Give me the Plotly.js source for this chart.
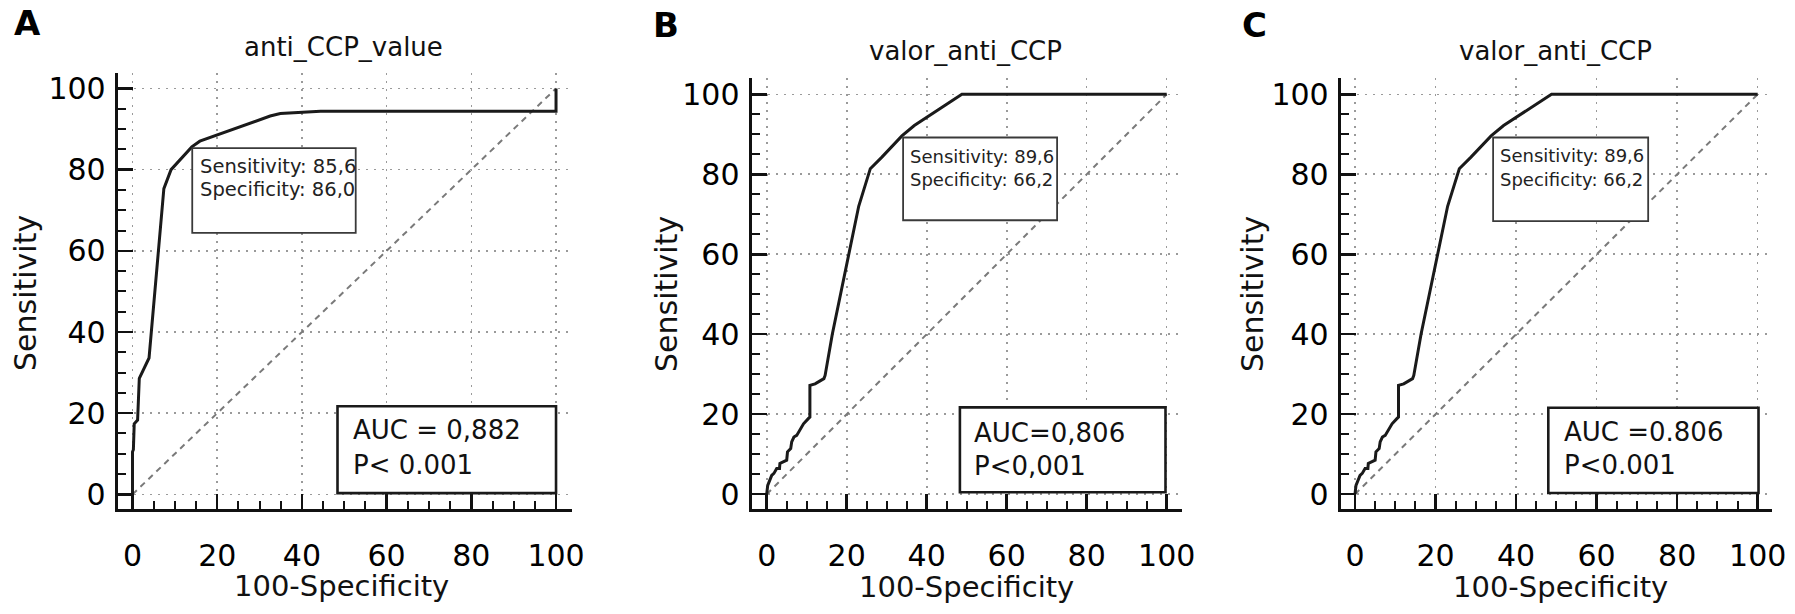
<!DOCTYPE html>
<html>
<head>
<meta charset="utf-8">
<script src="https://cdn.plot.ly/plotly-3.0.1.min.js"></script>
<style>html,body{margin:0;padding:0;background:#fff;}#chart{width:1795px;height:614px;}</style>
</head>
<body>
<div id="chart"></div>
<script>
// ---- data ----
const panelLetters = ["A", "B", "C"];
const panelTitles = ["anti_CCP_value", "valor_anti_CCP", "valor_anti_CCP"];
const xTitle = "100-Specificity";
const yTitle = "Sensitivity";

// Panel A ROC curve (100-Specificity, Sensitivity)
const aFpr = [0, 0, 0.2, 0.4, 1.2, 1.6, 3.9, 7.4, 9.1, 14.0, 15.9, 32.5, 34.9, 41.3, 44.4, 100, 100];
const aTpr = [0, 10.5, 11, 17.4, 18.3, 28.6, 33.6, 75.3, 80, 85.6, 87, 93.2, 93.8, 94.2, 94.4, 94.4, 100];

// Panel B ROC curve
const bFpr = [0, 0.25, 1.25, 1.8, 2.5, 3.2, 3.3, 4.3, 5.0, 5.2, 6.0, 6.25, 6.8, 7.5, 9.2, 10.4, 10.8, 10.8, 12.1, 14.3, 14.6, 16.4, 20.3, 23.0, 25.9, 28.8, 33.8, 36.9, 48.8, 100];
const bTpr = [0, 2.2, 4.7, 5.2, 6.4, 6.4, 7.7, 8.1, 8.5, 10.6, 11.4, 13.1, 14.3, 14.7, 17.6, 18.9, 19.3, 27.2, 27.6, 28.9, 29.7, 40.0, 59.0, 72.0, 81.4, 84.3, 89.6, 92.2, 100, 100];

// Panel C ROC curve (same analysis as B)
const cFpr = [0, 0.25, 1.25, 1.8, 2.5, 3.2, 3.3, 4.3, 5.0, 5.2, 6.0, 6.25, 6.8, 7.5, 9.2, 10.4, 10.8, 10.8, 12.1, 14.3, 14.6, 16.4, 20.3, 23.0, 25.9, 28.8, 33.8, 36.9, 48.8, 100];
const cTpr = [0, 2.2, 4.7, 5.2, 6.4, 6.4, 7.7, 8.1, 8.5, 10.6, 11.4, 13.1, 14.3, 14.7, 17.6, 18.9, 19.3, 27.2, 27.6, 28.9, 29.7, 40.0, 59.0, 72.0, 81.4, 84.3, 89.6, 92.2, 100, 100];

// chance diagonal
const refX = [0, 100];
const refY = [0, 100];

const tickVals = [0, 20, 40, 60, 80, 100];

// box texts
const sensText = ["Sensitivity: 85,6", "Sensitivity: 89,6", "Sensitivity: 89,6"];
const specText = ["Specificity: 86,0", "Specificity: 66,2", "Specificity: 66,2"];
const aucText = ["AUC = 0,882", "AUC=0,806", "AUC =0.806"];
const pText = ["P< 0.001", "P<0,001", "P<0.001"];

// ---- layout helpers (pixel geometry) ----
const W = 1795, H = 614;
const FONT = "DejaVu Sans, Arial, sans-serif";
const INK = "#111111";

const panels = [
  {fpr: aFpr, tpr: aTpr, xd: [117.7, 571.7], yd: [73, 509], xr: [-3.5, 103.7], yr: [-3.6, 103.8],
   letter: [27, 23], title: [343, 47], ytitle: [25, 293], xtitle: [341, 586],
   sensBox: [14.1, 64.4, 52.7, 85.3], sensTxt: [15.4, 80.7, 75.0], sensSize: 19.5,
   aucBox: [48.4, 0.3, 100, 21.7], aucTxt: [51.6, 15.8, 7.2]},
  {fpr: bFpr, tpr: bTpr, xd: [751.5, 1181.5], yd: [78.3, 509], xr: [-3.8, 103.7], yr: [-3.7, 104],
   letter: [666, 25], title: [965, 51], ytitle: [666, 294], xtitle: [966, 587],
   sensBox: [34.1, 68.5, 72.6, 89.2], sensTxt: [35.3, 84.5, 78.7], sensSize: 18,
   aucBox: [48.3, 0.5, 99.7, 21.7], aucTxt: [51.4, 15.4, 7.0]},
  {fpr: cFpr, tpr: cTpr, xd: [1340.7, 1772], yd: [78.3, 509], xr: [-3.55, 103.55], yr: [-3.7, 104],
   letter: [1254, 25], title: [1555, 51], ytitle: [1252, 294], xtitle: [1560, 587],
   sensBox: [34.3, 68.3, 72.8, 89.2], sensTxt: [35.4, 84.8, 78.7], sensSize: 18,
   aucBox: [48.0, 0.3, 100.2, 21.6], aucTxt: [51.4, 15.5, 7.2]}
];

const px = v => v / W;
const py = v => 1 - v / H;

const traces = [];
const layout = {
  width: W, height: H,
  margin: {l: 0, r: 0, t: 0, b: 0},
  paper_bgcolor: "#ffffff",
  plot_bgcolor: "#ffffff",
  showlegend: false,
  font: {family: FONT, color: INK},
  shapes: [],
  annotations: []
};

panels.forEach((p, i) => {
  const n = i === 0 ? "" : String(i + 1);
  const xa = "x" + n, ya = "y" + n;
  traces.push({
    x: refX, y: refY, xaxis: xa, yaxis: ya, type: "scatter", mode: "lines",
    line: {color: "#7a7a7a", width: 2, dash: "6px,5px"}, hoverinfo: "skip"
  });
  traces.push({
    x: p.fpr, y: p.tpr, xaxis: xa, yaxis: ya, type: "scatter", mode: "lines",
    line: {color: "#1a1a1a", width: 3}, hoverinfo: "skip"
  });
  const common = {
    tickvals: tickVals, ticks: "inside", ticklen: 15, tickwidth: 2.5, tickcolor: INK,
    showline: true, linewidth: 3, linecolor: INK, mirror: false,
    showgrid: true, gridcolor: "#9a9a9a", gridwidth: 1.6, griddash: "2px,6px",
    zeroline: false, fixedrange: true,
    tickfont: {family: FONT, size: 30, color: "#000"},
    minor: {dtick: 5, tick0: 0, ticks: "inside", ticklen: 8, tickwidth: 2, tickcolor: INK, showgrid: false}
  };
  layout["xaxis" + n] = Object.assign({}, common, {
    domain: [px(p.xd[0]), px(p.xd[1])], range: p.xr, anchor: ya, ticklabelstandoff: 18
  });
  layout["yaxis" + n] = Object.assign({}, common, {
    domain: [py(p.yd[1]), py(p.yd[0])], range: p.yr, anchor: xa, ticklabelstandoff: 3
  });
  // boxes
  layout.shapes.push({type: "rect", xref: xa, yref: ya, x0: p.sensBox[0], y0: p.sensBox[1], x1: p.sensBox[2], y1: p.sensBox[3],
    fillcolor: "#ffffff", line: {color: "#3a3a3a", width: 1.8}, layer: "above"});
  layout.shapes.push({type: "rect", xref: xa, yref: ya, x0: p.aucBox[0], y0: p.aucBox[1], x1: p.aucBox[2], y1: p.aucBox[3],
    fillcolor: "#ffffff", line: {color: "#1a1a1a", width: 2.6}, layer: "above"});
  // box texts
  layout.annotations.push({xref: xa, yref: ya, x: p.sensTxt[0], y: p.sensTxt[1], text: sensText[i], showarrow: false,
    xanchor: "left", yanchor: "middle", font: {family: FONT, size: p.sensSize, color: "#222"}});
  layout.annotations.push({xref: xa, yref: ya, x: p.sensTxt[0], y: p.sensTxt[2], text: specText[i], showarrow: false,
    xanchor: "left", yanchor: "middle", font: {family: FONT, size: p.sensSize, color: "#222"}});
  layout.annotations.push({xref: xa, yref: ya, x: p.aucTxt[0], y: p.aucTxt[1], text: aucText[i], showarrow: false,
    xanchor: "left", yanchor: "middle", font: {family: FONT, size: 26, color: INK}});
  layout.annotations.push({xref: xa, yref: ya, x: p.aucTxt[0], y: p.aucTxt[2], text: pText[i], showarrow: false,
    xanchor: "left", yanchor: "middle", font: {family: FONT, size: 26, color: INK}});
  // panel letter, title, axis titles
  layout.annotations.push({xref: "paper", yref: "paper", x: px(p.letter[0]), y: py(p.letter[1]), text: "<b>" + panelLetters[i] + "</b>",
    showarrow: false, xanchor: "center", yanchor: "middle", font: {family: FONT, size: 34, color: "#000"}});
  layout.annotations.push({xref: "paper", yref: "paper", x: px(p.title[0]), y: py(p.title[1]), text: panelTitles[i],
    showarrow: false, xanchor: "center", yanchor: "middle", font: {family: FONT, size: 26, color: INK}});
  layout.annotations.push({xref: "paper", yref: "paper", x: px(p.xtitle[0]), y: py(p.xtitle[1]), text: xTitle,
    showarrow: false, xanchor: "center", yanchor: "middle", font: {family: FONT, size: 29, color: INK}});
  layout.annotations.push({xref: "paper", yref: "paper", x: px(p.ytitle[0]), y: py(p.ytitle[1]), text: yTitle, textangle: -90,
    showarrow: false, xanchor: "center", yanchor: "middle", font: {family: FONT, size: 30, color: INK}});
});

Plotly.newPlot("chart", traces, layout, {staticPlot: true, displayModeBar: false});
</script>
</body>
</html>
